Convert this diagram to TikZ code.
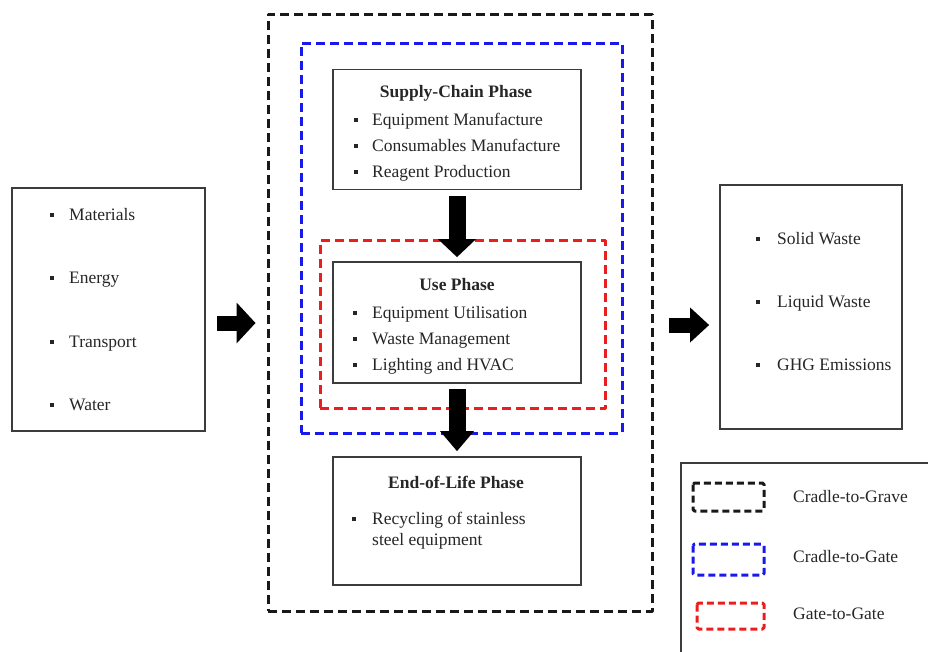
\documentclass[tikz,border=0pt]{standalone}
\usepackage{fontspec}
\setmainfont{Liberation Serif}
\usetikzlibrary{arrows.meta}
\definecolor{frameblue}{RGB}{25,25,235}
\definecolor{framered}{RGB}{235,30,30}
\definecolor{boxline}{RGB}{60,60,60}
\begin{document}
\begin{tikzpicture}[x=1pt,y=-1pt,
  solidbox/.style={draw=boxline, line width=1.8pt, inner sep=0pt},
  dashframe/.style={line width=3pt, dash pattern=on 9pt off 5pt, line join=round, inner sep=0pt},
  legdash/.style={line width=3pt, dash pattern=on 7pt off 4pt, line join=round, rounded corners=1.5pt},
  txt/.style={font=\fontsize{17.5}{21}\selectfont, inner sep=0pt, anchor=base west, text=black!85},
  ttl/.style={font=\fontsize{17.5}{21}\selectfont\bfseries, inner sep=0pt, anchor=base, text=black!85},
  bul/.style={fill=black!85},
  blockarrow/.style={line width=#1, draw=black},
]
\useasboundingbox (0,0) rectangle (928,651);

% frames
\node[dashframe, draw=black!90, minimum width=384pt, minimum height=597pt] (grave) at (460,312.5) {};
\node[dashframe, draw=frameblue, minimum width=321pt, minimum height=390pt] (cgate) at (461.5,238) {};
\node[dashframe, draw=framered, minimum width=285pt, minimum height=168pt] (ggate) at (462.5,324.5) {};

% boxes
\node[solidbox, minimum width=193pt, minimum height=243pt] (leftbox) at (108.5,309.5) {};
\node[solidbox, minimum width=182pt, minimum height=244pt] (rightbox) at (811,307) {};
\node[solidbox, fill=white, minimum width=248pt, minimum height=120pt] (supply) at (457,129.5) {};
\node[solidbox, fill=white, minimum width=248pt, minimum height=121pt] (use) at (457,322.5) {};
\node[solidbox, fill=white, minimum width=248pt, minimum height=128pt] (eol) at (457,521) {};

% left box items
\foreach \y/\t/\n in {215/Materials/m,278/Energy/e,342/Transport/t,405/Water/w}{
  \fill[bul] (49.5,\y-2) rectangle (53.5,\y+2);
  \node[txt] (in\n) at (69,\y+5) {\t};
}
% right box items
\foreach \y/\t/\n in {239/Solid Waste/s,302/Liquid Waste/l,365/GHG Emissions/g}{
  \fill[bul] (756,\y-2) rectangle (760,\y+2);
  \node[txt] (out\n) at (777,\y+5) {\t};
}

% supply chain
\node[ttl] (supplyttl) at (456,97) {Supply-Chain Phase};
\foreach \y/\t/\n in {120/Equipment Manufacture/a,146/Consumables Manufacture/b,172/Reagent Production/c}{
  \fill[bul] (354,\y-2) rectangle (358,\y+2);
  \node[txt] (sc\n) at (372,\y+5) {\t};
}
% use phase
\node[ttl] (usettl) at (457,290) {Use Phase};
\foreach \y/\t/\n in {313/Equipment Utilisation/a,339/Waste Management/b,365/Lighting and HVAC/c}{
  \fill[bul] (353,\y-2) rectangle (357,\y+2);
  \node[txt] (up\n) at (372,\y+5) {\t};
}
% end of life
\node[ttl] (eolttl) at (456,488) {End-of-Life Phase};
\fill[bul] (352,517) rectangle (356,521);
\node[txt] (eola) at (372,524) {Recycling of stainless};
\node[txt] (eolb) at (372,545) {steel equipment};

% block arrows
\draw[blockarrow=17pt, -{Triangle[width=38pt,length=18pt,line width=0pt]}, shorten <=6pt, shorten >=4pt] (supply.south) -- (use.north);
\draw[blockarrow=17pt, -{Triangle[width=34pt,length=20pt,line width=0pt]}, shorten <=5pt, shorten >=5pt] (use.south) -- (eol.north);
\coordinate (la) at ([yshift=-13.5pt]leftbox.east);
\draw[blockarrow=15pt, -{Triangle[width=41pt,length=19pt,line width=0pt]}, shorten <=11pt, shorten >=11pt] (la) -- (grave.west |- la);
\coordinate (ra) at ([yshift=-12.5pt]grave.east);
\draw[blockarrow=15pt, -{Triangle[width=35pt,length=19pt,line width=0pt]}, shorten <=15pt, shorten >=10pt] (ra) -- (rightbox.west |- ra);

% legend
\coordinate (legtr) at (940,463);
\coordinate (legbl) at (681,665);
\draw[draw=boxline, line width=1.6pt] (legtr) -- (legbl |- legtr) -- (legbl);
\draw[legdash, draw=black!90] (693,483) rectangle (764,511);
\draw[legdash, draw=frameblue] (693,544) rectangle (764,575);
\draw[legdash, draw=framered] (697,603) rectangle (764,629);
\node[txt] (lg1) at (793,502) {Cradle-to-Grave};
\node[txt] (lg2) at (793,562) {Cradle-to-Gate};
\node[txt] (lg3) at (793,619) {Gate-to-Gate};
\end{tikzpicture}
\end{document}
